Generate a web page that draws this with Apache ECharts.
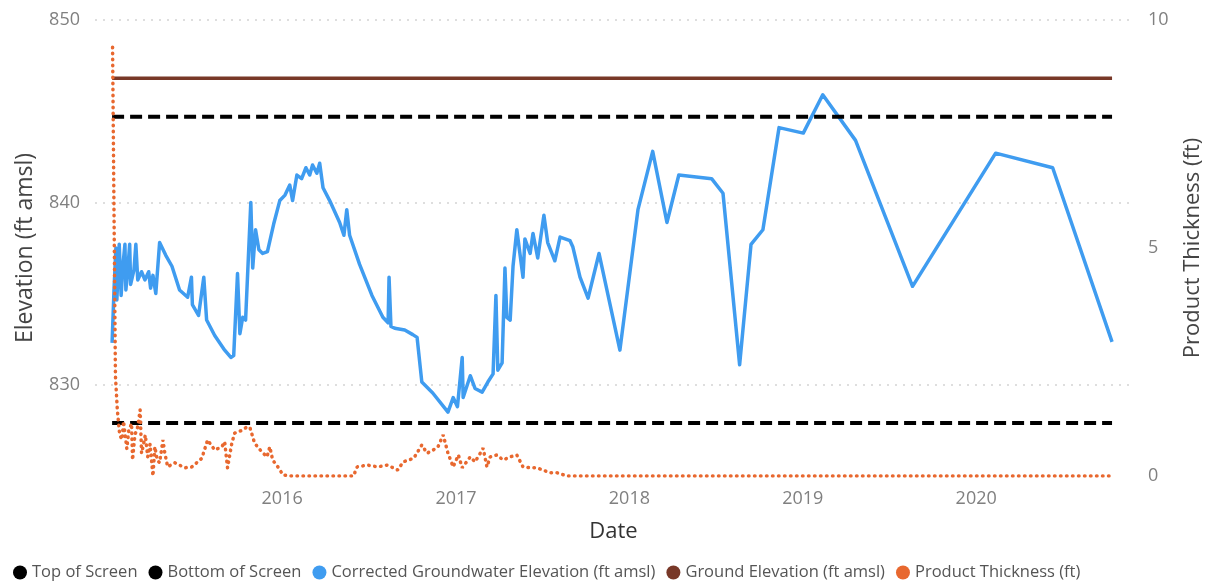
<!DOCTYPE html>
<html>
<head>
<meta charset="utf-8">
<script src="https://cdn.jsdelivr.net/npm/echarts@6/dist/echarts.min.js"></script>
<style>
  html, body { margin: 0; padding: 0; background: #fff; }
  #container { width: 1212px; height: 588px; }
</style>
</head>
<body>
<div id="container"></div>
<script>
// corrected groundwater elevation (ft amsl)
var gwDates = [
  '2015-01-08','2015-01-12','2015-01-16','2015-01-18','2015-01-23','2015-01-27','2015-01-31','2015-02-04',
  '2015-02-06','2015-02-10','2015-02-14','2015-02-16','2015-02-23','2015-02-27','2015-03-03','2015-03-11',
  '2015-03-18','2015-03-26','2015-03-30','2015-04-04','2015-04-10','2015-04-18','2015-05-01','2015-05-14',
  '2015-05-30','2015-06-16','2015-06-24','2015-06-26','2015-07-09','2015-07-20','2015-07-26','2015-08-12',
  '2015-09-02','2015-09-15','2015-09-21','2015-09-29','2015-10-04','2015-10-10','2015-10-16','2015-10-27',
  '2015-10-31','2015-11-06','2015-11-13','2015-11-21','2015-12-01','2015-12-14','2015-12-27','2016-01-07',
  '2016-01-17','2016-01-23','2016-02-01','2016-02-11','2016-02-20','2016-02-28','2016-03-05','2016-03-14',
  '2016-03-20','2016-03-27','2016-04-10','2016-05-01','2016-05-10','2016-05-16','2016-05-22','2016-06-12',
  '2016-07-08','2016-07-31','2016-08-11','2016-08-13','2016-08-17','2016-08-25','2016-09-15','2016-10-02',
  '2016-10-11','2016-10-21','2016-11-13','2016-12-15','2016-12-26','2017-01-04','2017-01-14','2017-01-16',
  '2017-01-31','2017-02-10','2017-02-25','2017-03-09','2017-03-20','2017-03-26','2017-03-30','2017-04-08',
  '2017-04-14','2017-04-18','2017-04-25','2017-05-01','2017-05-09','2017-05-22','2017-05-26','2017-06-06',
  '2017-06-12','2017-06-22','2017-07-05','2017-07-13','2017-07-28','2017-08-08','2017-08-29','2017-09-04',
  '2017-09-19','2017-10-06','2017-10-29','2017-12-12','2018-01-19','2018-02-19','2018-03-21','2018-04-15',
  '2018-06-23','2018-07-17','2018-08-21','2018-09-14','2018-10-09','2018-11-12','2019-01-02','2019-02-12',
  '2019-04-22','2019-08-20','2020-02-11','2020-06-10','2020-10-13'
];
var gwValues = [
  832.3, 835.2, 837.5, 834.65, 837.7, 834.9, 836.6, 837.7,
  835.2, 836.3, 837.7, 835.5, 836.3, 837.7, 835.75, 836.2,
  835.75, 836.2, 835.3, 836.0, 835.0, 837.8, 837.1, 836.5,
  835.2, 834.8, 835.9, 834.4, 833.8, 835.9, 833.55, 832.7,
  831.9, 831.5, 831.6, 836.1, 832.8, 833.7, 833.55, 840.0,
  836.4, 838.5, 837.4, 837.2, 837.3, 838.8, 840.1, 840.4,
  840.95, 840.1, 841.5, 841.3, 841.9, 841.5, 842.05, 841.6,
  842.15, 840.8, 840.1, 838.9, 838.2, 839.6, 838.2, 836.6,
  834.9, 833.7, 833.4, 835.9, 833.2, 833.1, 833.0, 832.75,
  832.6, 830.15, 829.55, 828.5, 829.3, 828.8, 831.5, 829.3,
  830.5, 829.8, 829.6, 830.15, 830.6, 834.9, 830.8, 831.2,
  836.4, 833.7, 833.55, 836.5, 838.5, 835.9, 838.0, 837.2,
  838.3, 836.95, 839.3, 837.8, 836.8, 838.1, 837.9, 837.55,
  835.9, 834.75, 837.2, 831.9, 839.6, 842.8, 838.9, 841.5,
  841.3, 840.5, 831.1, 837.7, 838.5, 844.1, 843.8, 845.9,
  843.4, 835.4, 842.7, 841.9, 832.35
];

// product thickness (ft)
var ptDates = [
  '2015-01-09','2015-01-15','2015-01-19','2015-01-24','2015-01-29','2015-02-01','2015-02-04','2015-02-08',
  '2015-02-12','2015-02-18','2015-02-20','2015-02-25','2015-03-03','2015-03-08','2015-03-11','2015-03-14',
  '2015-03-19','2015-03-24','2015-03-29','2015-04-04','2015-04-08','2015-04-13','2015-04-18','2015-04-25',
  '2015-04-29','2015-05-05','2015-05-20','2015-06-10','2015-06-25','2015-07-16','2015-07-28','2015-08-12',
  '2015-08-27','2015-09-02','2015-09-08','2015-09-17','2015-09-23','2015-10-08','2015-10-18','2015-10-25',
  '2015-11-04','2015-11-19','2015-11-30','2015-12-06','2015-12-12','2015-12-23','2016-01-03','2016-01-22',
  '2016-05-30','2016-06-07','2016-06-28','2016-07-20','2016-08-10','2016-08-31','2016-09-12','2016-10-04',
  '2016-10-21','2016-11-01','2016-11-14','2016-11-24','2016-12-05','2016-12-15','2016-12-26','2017-01-06',
  '2017-01-14','2017-01-31','2017-02-10','2017-02-21','2017-02-27','2017-03-07','2017-03-14','2017-03-28',
  '2017-04-10','2017-04-25','2017-05-09','2017-05-22','2017-06-06','2017-06-20','2017-07-03','2017-07-18',
  '2017-08-02','2017-08-23','2020-10-13'
];
var ptValues = [
  9.4, 2.2, 1.45, 0.9, 0.8, 1.2, 0.95, 0.6,
  1.0, 1.15, 0.35, 0.9, 1.08, 1.45, 0.5, 0.64,
  0.9, 0.42, 0.7, 0.0, 0.64, 0.35, 0.29, 0.79,
  0.5, 0.2, 0.29, 0.18, 0.2, 0.39, 0.79, 0.57,
  0.64, 0.75, 0.18, 0.72, 0.94, 1.0, 1.07, 1.07,
  0.72, 0.53, 0.42, 0.64, 0.35, 0.2, 0.02, 0,
  0, 0.2, 0.24, 0.2, 0.24, 0.13, 0.31, 0.39,
  0.68, 0.5, 0.57, 0.64, 0.9, 0.5, 0.2, 0.46,
  0.18, 0.42, 0.31, 0.5, 0.61, 0.2, 0.42, 0.46,
  0.35, 0.42, 0.46, 0.2, 0.18, 0.18, 0.13, 0.07,
  0.07, 0, 0
];

// constant reference levels (ft amsl)
var refDates = ['2015-01-08', '2020-10-13'];
var topOfScreen = 844.7;
var bottomOfScreen = 827.9;
var groundElevation = 846.8;

var yearTicks = ['2016-01-01', '2017-01-01', '2018-01-01', '2019-01-01', '2020-01-01'];

function ms(d) { return Date.parse(d); }
function pairs(dates, values) {
  var out = [];
  for (var i = 0; i < dates.length; i++) {
    out.push([ms(dates[i]), values[i]]);
  }
  return out;
}
function flat(dates, v) {
  return dates.map(function (d) { return [ms(d), v]; });
}

var fontFamily = '"Open Sans", "Noto Sans", sans-serif';
var dom = document.getElementById('container');
var myChart = echarts.init(dom, null, {renderer: 'canvas'});

myChart.setOption({
  backgroundColor: '#fff',
  animation: false,
  textStyle: { fontFamily: fontFamily },
  grid: {
    left: 95,
    right: 80,
    top: 20,
    bottom: 112,
    containLabel: false
  },
  legend: {
    left: 8,
    bottom: 2,
    icon: 'circle',
    itemWidth: 14,
    itemHeight: 14,
    itemGap: 11,
    textStyle: { color: '#555', fontSize: 16.5, fontFamily: fontFamily },
    data: ['Top of Screen', 'Bottom of Screen', 'Corrected Groundwater Elevation (ft amsl)',
      'Ground Elevation (ft amsl)', 'Product Thickness (ft)']
  },
  xAxis: {
    type: 'value',
    min: ms('2014-12-03'),
    max: ms('2020-11-24'),
    name: 'Date',
    nameLocation: 'middle',
    nameGap: 45,
    nameTextStyle: { color: '#333', fontSize: 22, fontFamily: fontFamily },
    axisLine: { show: false },
    axisTick: { show: false },
    splitLine: { show: false },
    axisLabel: {
      customValues: yearTicks.map(ms),
      color: '#808080',
      fontSize: 18,
      margin: 14,
      formatter: function (v) { return String(new Date(v).getUTCFullYear()); }
    }
  },
  yAxis: [
    {
      type: 'value',
      min: 825,
      max: 850,
      interval: 5,
      name: 'Elevation (ft amsl)',
      nameLocation: 'middle',
      nameGap: 58,
      nameTextStyle: { color: '#444', fontSize: 23, fontFamily: fontFamily },
      axisLine: { show: false },
      axisTick: { show: false },
      axisLabel: {
        color: '#808080',
        fontSize: 18,
        margin: 15,
        formatter: function (v) { return v % 10 === 0 ? String(v) : ''; }
      },
      splitLine: {
        show: true,
        lineStyle: { color: ['rgba(0,0,0,0)', '#d4d4d4'], type: [2, 6], width: 1.5 }
      }
    },
    {
      type: 'value',
      min: 0,
      max: 10,
      interval: 5,
      position: 'right',
      name: 'Product Thickness (ft)',
      nameLocation: 'middle',
      nameGap: 50,
      nameTextStyle: { color: '#444', fontSize: 22, fontFamily: fontFamily },
      axisLine: { show: false },
      axisTick: { show: false },
      splitLine: { show: false },
      axisLabel: { color: '#808080', fontSize: 18, margin: 16 }
    }
  ],
  series: [
    {
      name: 'Top of Screen',
      type: 'line',
      showSymbol: false,
      data: flat(refDates, topOfScreen),
      itemStyle: { color: '#000' },
      lineStyle: { color: '#000', width: 4, type: [12, 6] },
      z: 3
    },
    {
      name: 'Bottom of Screen',
      type: 'line',
      showSymbol: false,
      data: flat(refDates, bottomOfScreen),
      itemStyle: { color: '#000' },
      lineStyle: { color: '#000', width: 4, type: [12, 6] },
      z: 3
    },
    {
      name: 'Corrected Groundwater Elevation (ft amsl)',
      type: 'line',
      showSymbol: false,
      data: pairs(gwDates, gwValues),
      itemStyle: { color: '#3f9cf0' },
      lineStyle: { color: '#3f9cf0', width: 3.5, join: 'round' },
      z: 2
    },
    {
      name: 'Ground Elevation (ft amsl)',
      type: 'line',
      showSymbol: false,
      data: flat(refDates, groundElevation),
      itemStyle: { color: '#783828' },
      lineStyle: { color: '#783828', width: 3.5 },
      z: 3
    },
    {
      name: 'Product Thickness (ft)',
      type: 'line',
      yAxisIndex: 1,
      showSymbol: false,
      data: pairs(ptDates, ptValues),
      itemStyle: { color: '#e8682f' },
      lineStyle: { color: '#e8682f', width: 3.5, type: [0.5, 5.5], cap: 'round' },
      z: 4
    }
  ]
});
</script>
</body>
</html>
